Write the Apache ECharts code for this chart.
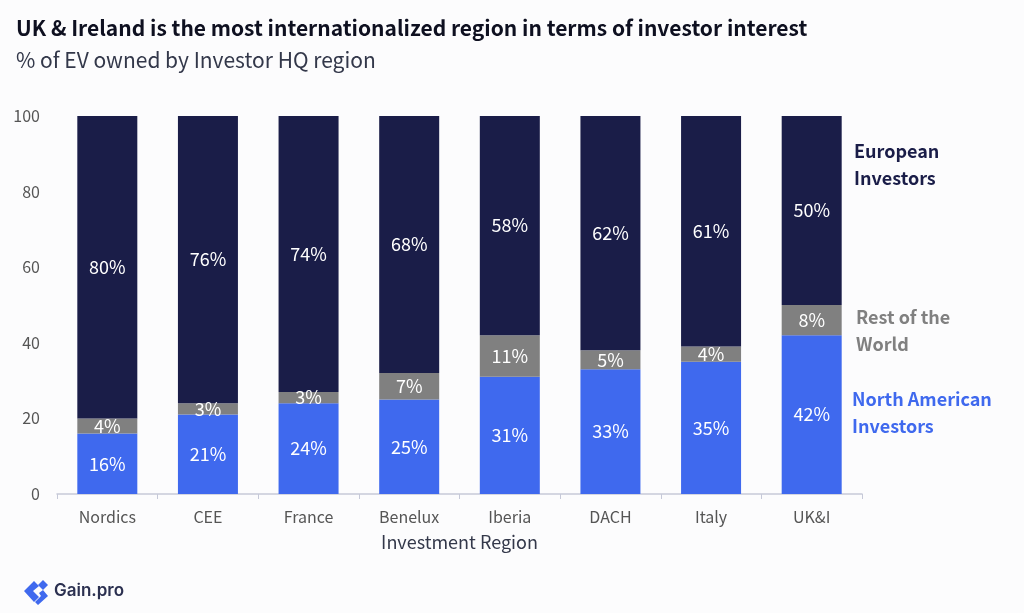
<!DOCTYPE html>
<html>
<head>
<meta charset="utf-8">
<style>html,body{margin:0;padding:0;background:#fcfcfd}#chart{width:1024px;height:613px}</style>
<script src="https://cdn.jsdelivr.net/npm/echarts@6/dist/echarts.min.js"></script>
</head>
<body>
<div id="chart"></div>
<script>
const FONT = '"Noto Sans CJK SC","Noto Sans",sans-serif';
const regions = ['Nordics','CEE','France','Benelux','Iberia','DACH','Italy','UK&I'];
const northAmerican = [16,21,24,25,31,33,35,42];
const restOfWorld = [4,3,3,7,11,5,4,8];
const european = [80,76,74,68,58,62,61,50];
const yTicks = [0,20,40,60,80,100];

const stackSeries = (name, data, color) => ({
  name, type: 'bar', stack: 'share', data, barWidth: 60,
  itemStyle: { color },
  label: { show: true, position: 'inside', formatter: '{c}%', color: '#fff', fontFamily: FONT, fontSize: 18 }
});

const sideText = (left, top, text, fill) => ({
  type: 'text', left, top,
  style: { text, fill, font: '700 18px ' + FONT, lineHeight: 27 }
});

const chart = echarts.init(document.getElementById('chart'));
chart.setOption({
  backgroundColor: '#fcfcfd',
  animation: false,
  grid: { left: 57, right: 162, top: 116, bottom: 119 },
  xAxis: {
    type: 'category', data: regions,
    name: 'Investment Region', nameLocation: 'middle', nameGap: 39,
    nameTextStyle: { fontFamily: FONT, fontSize: 18, color: '#33384a' },
    axisLine: { lineStyle: { color: '#c6c9d8', width: 1.5 } },
    axisTick: { show: true, length: 5, alignWithLabel: false, lineStyle: { color: '#c6c9d8' } },
    axisLabel: { fontFamily: FONT, fontSize: 16, color: '#555', margin: 15 }
  },
  yAxis: {
    type: 'value', min: yTicks[0], max: yTicks[yTicks.length - 1], interval: 20,
    axisLine: { show: false }, axisTick: { show: false }, splitLine: { show: false },
    axisLabel: { fontFamily: FONT, fontSize: 16, color: '#555', margin: 17 }
  },
  series: [
    stackSeries('North American Investors', northAmerican, '#3f69ee'),
    stackSeries('Rest of the World', restOfWorld, '#808080'),
    stackSeries('European Investors', european, '#1a1d48')
  ],
  graphic: [
    { type: 'text', left: 16, top: 18, style: { text: 'UK & Ireland is the most internationalized region in terms of investor interest', fill: '#0e1020', font: '700 21px ' + FONT } },
    { type: 'text', left: 16, top: 50, style: { text: '% of EV owned by Investor HQ region', fill: '#33384a', font: '400 21px ' + FONT } },
    sideText(854, 138, 'European\nInvestors', '#1a1d48'),
    sideText(856, 304, 'Rest of the\nWorld', '#808080'),
    sideText(852, 386, 'North American\nInvestors', '#3f69ee'),
    // Brand mark and wordmark
    { type: 'polygon', shape: { points: [[34,581],[24,591],[34,602],[39,597],[33,591],[39,586]] }, style: { fill: '#3f69ee' } },
    { type: 'polygon', shape: { points: [[43,580],[48,585],[43,590],[38,585]] }, style: { fill: '#3f69ee' } },
    { type: 'polygon', shape: { points: [[43,590],[48,596],[38,605],[35,602],[41,596],[39,593]] }, style: { fill: '#3f69ee' } },
    { type: 'text', left: 54, top: 582, style: { text: 'Gain.pro', fill: '#2b3050', font: '600 17px Inter, sans-serif' } }
  ]
});
</script>
</body>
</html>
